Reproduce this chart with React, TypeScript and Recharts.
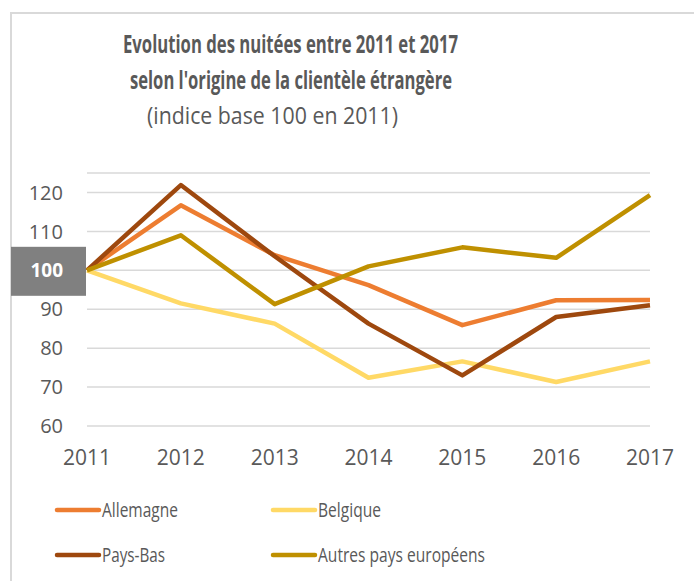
import { LineChart, Line, XAxis, YAxis, CartesianGrid } from 'recharts'

const YEARS = ['2011', '2012', '2013', '2014', '2015', '2016', '2017']
const ALLEMAGNE = [100, 116.7, 103.9, 96.2, 85.9, 92.3, 92.4]
const BELGIQUE = [100, 91.5, 86.3, 72.4, 76.6, 71.3, 76.6]
const PAYS_BAS = [100, 121.9, 103.6, 86.3, 73.0, 88.0, 91.0]
const AUTRES = [100, 109.0, 91.3, 101.0, 105.9, 103.2, 119.3]
const Y_TICKS = [60, 70, 80, 90, 100, 110, 120]

const TITLE_1 = 'Evolution des nuitées entre 2011 et 2017'
const TITLE_2 = "selon l'origine de la clientèle étrangère"
const SUBTITLE = '(indice base 100 en 2011)'

const SERIES = [
  { key: 'allemagne', name: 'Allemagne', color: '#ED7D31', values: ALLEMAGNE },
  { key: 'belgique', name: 'Belgique', color: '#FFD966', values: BELGIQUE },
  { key: 'paysbas', name: 'Pays-Bas', color: '#9E480E', values: PAYS_BAS },
  { key: 'autres', name: 'Autres pays européens', color: '#BF9000', values: AUTRES },
]

const data = YEARS.map((year, i) => {
  const row: Record<string, string | number> = { year }
  SERIES.forEach((s) => (row[s.key] = s.values[i]))
  return row
})

const FONT = '"Open Sans", sans-serif'
const TEXT = '#595959'

const LEGEND_POS = [
  { x: 57, y: 510, w: 76 },
  { x: 273, y: 510, w: 63 },
  { x: 57, y: 555, w: 63 },
  { x: 273, y: 555, w: 167 },
]

function YTick({ x, y, payload }: any) {
  if (payload.value === 100) {
    return (
      <g>
        <rect x={11} y={y - 23.5} width={75} height={49} fill="#808080" />
        <text x={x} y={y} dy="0.36em" textAnchor="end" fill="#fff" fontWeight="bold" fontSize={19} fontFamily={FONT}>
          {payload.value}
        </text>
      </g>
    )
  }
  return (
    <text x={x} y={y} dy="0.36em" textAnchor="end" fill={TEXT} fontSize={20} fontFamily={FONT}>
      {payload.value}
    </text>
  )
}

function XTick({ x, y, payload }: any) {
  return (
    <text x={x} y={y + 39} textAnchor="middle" fill={TEXT} fontSize={21} fontFamily={FONT}>
      {payload.value}
    </text>
  )
}

export default function App() {
  return (
    <div style={{ position: 'absolute', left: 0, top: 0, width: 694, height: 581, background: '#fff', overflow: 'hidden' }}>
      <div
        style={{
          position: 'absolute',
          left: 10,
          top: 12,
          right: 0,
          bottom: 0,
          borderLeft: '2px solid #d9d9d9',
          borderTop: '2px solid #d9d9d9',
        }}
      />
      <div style={{ position: 'absolute', left: 0, top: 0 }}>
        {/* domain goes to 125 so the Pays-Bas peak (121.9) isn't clipped; no gridline above 120 */}
        <LineChart width={694} height={581} data={data} margin={{ top: 173, right: 44, bottom: 125, left: 0 }}>
          <CartesianGrid vertical={false} stroke="#d9d9d9" strokeWidth={1.5} />
          <XAxis
            dataKey="year"
            scale="point"
            padding={{ left: 0, right: 0 }}
            axisLine={false}
            tickLine={false}
            tickSize={0}
            tickMargin={0}
            height={30}
            tick={<XTick />}
            interval={0}
          />
          <YAxis
            domain={[60, 125]}
            ticks={Y_TICKS}
            axisLine={false}
            tickLine={false}
            tickSize={0}
            tickMargin={24}
            width={87}
            tick={<YTick />}
            interval={0}
          />
          {SERIES.map((s) => (
            <Line
              key={s.key}
              dataKey={s.key}
              name={s.name}
              stroke={s.color}
              strokeWidth={4.5}
              dot={false}
              strokeLinejoin="round"
              isAnimationActive={false}
            />
          ))}
        </LineChart>
      </div>
      <svg width={694} height={581} style={{ position: 'absolute', left: 0, top: 0, pointerEvents: 'none' }}>
        <g fill={TEXT} fontFamily={FONT}>
          <text x={290.5} y={53} textAnchor="middle" fontWeight="bold" fontSize={25} textLength={335} lengthAdjust="spacingAndGlyphs">
            {TITLE_1}
          </text>
          <text x={291} y={89} textAnchor="middle" fontWeight="bold" fontSize={25} textLength={322} lengthAdjust="spacingAndGlyphs">
            {TITLE_2}
          </text>
          <text x={272.5} y={124} textAnchor="middle" fontSize={24} textLength={251} lengthAdjust="spacingAndGlyphs">
            {SUBTITLE}
          </text>
        </g>
        {SERIES.map((s, i) => {
          const p = LEGEND_POS[i]
          return (
            <g key={s.key}>
              <line x1={p.x} x2={p.x + 42} y1={p.y} y2={p.y} stroke={s.color} strokeWidth={4.5} strokeLinecap="round" />
              <text x={p.x + 45} y={p.y + 7} fill={TEXT} fontFamily={FONT} fontSize={20} textLength={p.w} lengthAdjust="spacingAndGlyphs">
                {s.name}
              </text>
            </g>
          )
        })}
      </svg>
    </div>
  )
}
